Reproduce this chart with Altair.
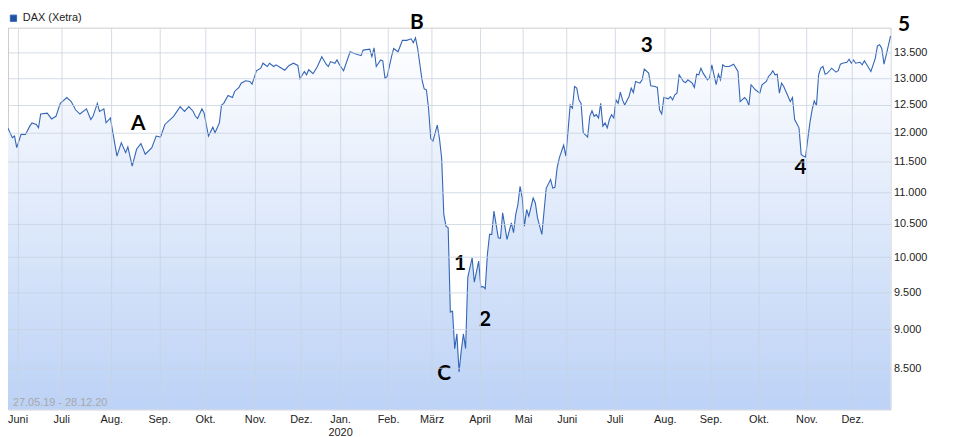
import json
import altair as alt
import numpy as np
import pandas as pd

# ---------------- data ----------------
series_name = "DAX (Xetra)"
range_text = "27.05.19 - 28.12.20"
start_date = "2019-05-27"

# trading-day number since 27.05.2019 and DAX close
day = [0, 2, 3, 4, 6, 8, 10, 11, 13, 14, 15, 18, 20, 22, 24, 27, 29, 31, 33, 36,
       38, 39, 41, 42, 44, 45, 47, 48, 50, 52, 54, 55, 57, 59, 61, 63, 66, 68, 70, 72,
       76, 79, 81, 83, 85, 86, 87, 89, 90, 92, 94, 95, 97, 98, 99, 101, 103, 104, 106, 107,
       109, 111, 112, 114, 116, 117, 119, 120, 122, 123, 125, 127, 129, 131, 133, 134, 136, 137, 138, 140,
       142, 144, 146, 147, 148, 150, 151, 152, 154, 157, 159, 162, 163, 166, 167, 168, 169, 171, 172, 173,
       174, 176, 177, 179, 181, 183, 185, 186, 187, 188, 190, 191, 192, 193, 194, 195, 197, 198, 199, 200,
       201, 202, 203, 204, 205, 206, 207, 208, 209, 210, 211, 213, 214, 216, 217, 218, 219, 220, 221, 222,
       223, 225, 226, 227, 229, 231, 232, 233, 234, 235, 236, 237, 238, 239, 241, 242, 243, 245, 247, 249,
       250, 251, 252, 253, 255, 256, 257, 258, 259, 260, 261, 262, 263, 264, 266, 267, 268, 269, 270, 271,
       272, 273, 274, 275, 276, 277, 278, 279, 280, 281, 282, 283, 285, 286, 287, 288, 290, 291, 292, 294,
       295, 297, 298, 299, 300, 301, 303, 304, 305, 306, 307, 308, 310, 311, 312, 314, 315, 316, 317, 318,
       319, 321, 322, 323, 324, 325, 326, 327, 328, 329, 331, 333, 335, 336, 338, 339, 340, 341, 343, 345,
       346, 348, 349, 350, 351, 352, 353, 354, 355, 356, 358, 359, 360, 361, 363, 364, 365, 366, 367, 368,
       369, 370, 371, 372, 373, 374, 375, 376, 377, 378, 380, 381, 382, 383, 385, 386, 387, 388, 389, 391,
       392, 393, 394, 396, 398, 399, 400, 401, 402, 403, 405]

dax = [12080, 11914, 11943, 11742, 11972, 11972, 12118, 12176, 12148, 12088, 12335, 12352, 12247, 12294, 12530, 12637, 12562, 12412, 12335, 12430,
       12236, 12294, 12530, 12382, 12430, 12176, 12264, 12030, 11598, 11828, 11656, 11754, 11428, 11714, 11811, 11629, 11742, 11943, 11926, 12148,
       12294, 12470, 12382, 12470, 12382, 12294, 12254, 12430, 12352, 11943, 12100, 12000, 12176, 12500, 12530, 12675, 12637, 12750, 12825, 12906,
       12951, 12938, 12887, 13143, 13193, 13289, 13225, 13289, 13225, 13258, 13206, 13154, 13245, 13289, 13245, 12989, 13129, 13066, 13162, 13085,
       13225, 13417, 13270, 13225, 13321, 13289, 13354, 13270, 13143, 13514, 13481, 13437, 13547, 13566, 13417, 13592, 13225, 13354, 13335, 13000,
       13033, 13417, 13578, 13514, 13742, 13742, 13773, 13695, 13793, 13578, 12970, 12800, 12782, 12440, 11900, 11855, 12136, 11900, 11569, 10647,
       10465, 10440, 9226, 9240, 8746, 8937, 8453, 8720, 8937, 8746, 9710, 9990, 9640, 9944, 9570, 9580, 9548, 10040, 10340, 10340,
       10698, 10290, 10281, 10672, 10266, 10516, 10365, 10647, 10803, 11095, 10906, 10465, 10725, 10620, 10906, 10828, 10594, 10340, 11067, 11207,
       11067, 11078, 11400, 11569, 11787, 11598, 12030, 12500, 12440, 12844, 12812, 12594, 12530, 12000, 11926, 12294, 12394, 12294, 12324, 12264,
       12530, 12118, 12176, 12088, 12236, 12324, 12264, 12594, 12530, 12737, 12594, 12500, 12656, 12812, 12731, 12938, 12906, 12970, 13174, 13097,
       12857, 12844, 12825, 12412, 12335, 12637, 12613, 12656, 12594, 12688, 12718, 13066, 12938, 12919, 12970, 12906, 12825, 13078, 13066, 13193,
       13097, 12970, 13013, 13258, 13066, 12876, 13078, 12970, 13258, 13225, 13225, 13270, 13129, 12562, 12637, 12594, 12488, 12876, 12782, 12718,
       12876, 12938, 13033, 13078, 13143, 13066, 13078, 12718, 12906, 12844, 12656, 12562, 12637, 12236, 12088, 11627, 11598, 11581, 11886, 12176,
       12412, 12575, 12488, 13066, 13193, 13225, 13078, 13097, 13143, 13193, 13116, 13143, 13270, 13289, 13308, 13366, 13289, 13354, 13289, 13308,
       13258, 13335, 13270, 13129, 13385, 13630, 13656, 13578, 13270, 13450, 13825]

# x-axis: first day of each month and its label
month_firsts = ["2019-06-01", "2019-07-01", "2019-08-01", "2019-09-01", "2019-10-01",
                "2019-11-01", "2019-12-01", "2020-01-01", "2020-02-01", "2020-03-01",
                "2020-04-01", "2020-05-01", "2020-06-01", "2020-07-01", "2020-08-01",
                "2020-09-01", "2020-10-01", "2020-11-01", "2020-12-01"]
month_names = ["Juni", "Juli", "Aug.", "Sep.", "Okt.", "Nov.", "Dez.", "Jan.", "Feb.", "März",
               "April", "Mai", "Juni", "Juli", "Aug.", "Sep.", "Okt.", "Nov.", "Dez."]
year_marks = {"2020-01-01": "2020"}
holidays = ["2019-12-24", "2019-12-25", "2019-12-26", "2019-12-31", "2020-01-01",
            "2020-04-10", "2020-04-13", "2020-05-01", "2020-12-24", "2020-12-25"]

# y-axis ticks
y_ticks = [8500, 9000, 9500, 10000, 10500, 11000, 11500, 12000, 12500, 13000, 13500]
y_domain = [8000, 14000]

# annotations (label, trading day, value)
ann_labels = ["A", "B", "C", "1", "2", "3", "4", "5"]
ann_day = [59.8, 187.6, 200.2, 207.4, 218.9, 293.1, 363.7, 411.2]
ann_value = [12148, 14086, 8423, 9905, 9121, 13625, 11391, 14060]

# ---------------- build ----------------
n_days = int(np.busday_count(start_date, "2020-12-29", holidays=holidays)) - 1
month_idx = np.busday_count(start_date, month_firsts, holidays=holidays).astype(float) - 0.6
tick_vals = [round(float(v), 2) for v in month_idx]
label_list = [[n, year_marks[d]] if d in year_marks else n for n, d in zip(month_names, month_firsts)]
x_label_expr = f"{json.dumps(label_list, ensure_ascii=False)}[indexof({json.dumps(tick_vals)}, datum.value)]"
y_label_expr = "replace(format(datum.value, ',.0f'), ',', '.')"

df = pd.DataFrame({"day": day, "dax": dax, "series": series_name})
df["floor"] = y_domain[0]
ann = pd.DataFrame({"label": ann_labels, "day": ann_day, "value": ann_value})
rng = pd.DataFrame({"t": [range_text]})

FONT = "Liberation Sans"
x_enc = alt.X("day:Q",
              scale=alt.Scale(domain=[0, n_days], nice=False, zero=False),
              axis=alt.Axis(values=tick_vals, labelExpr=x_label_expr, title=None,
                            ticks=False, domain=False, grid=True, labelPadding=4,
                            labelFont=FONT, labelFontSize=11, labelColor="#222222",
                            labelOverlap=False, labelFlush=False,
                            gridColor="#c9d3e0", gridOpacity=0.8, zindex=1))
y_enc = alt.Y("dax:Q",
              scale=alt.Scale(type="log", domain=y_domain, nice=False),
              axis=alt.Axis(orient="right", values=y_ticks, labelExpr=y_label_expr,
                            title=None, ticks=False, domain=False, grid=True,
                            labelPadding=3, labelFont=FONT, labelFontSize=11,
                            labelColor="#222222", labelOverlap=False,
                            gridColor="#c9d3e0", gridOpacity=0.8, zindex=1))

gradient = alt.LinearGradient(
    gradient="linear",
    stops=[alt.GradientStop(color="#ffffff", offset=0),
           alt.GradientStop(color="#bcd2f6", offset=1)],
    x1=1, x2=1, y1=0, y2=1)

base = alt.Chart(df)
area = base.mark_area(fill=gradient, line=False, opacity=1).encode(
    x=x_enc, y=y_enc, y2="floor:Q")
line = base.mark_line(strokeWidth=1.1).encode(
    x="day:Q", y="dax:Q",
    color=alt.Color("series:N", scale=alt.Scale(range=["#3466b7"]),
                    legend=alt.Legend(title=None, orient="none", legendX=0, legendY=-15,
                                      symbolType="square", symbolSize=40,
                                      symbolFillColor="#2350a3", symbolStrokeColor="#0f2e66",
                                      symbolStrokeWidth=1, labelFont=FONT, labelFontSize=11,
                                      labelColor="#222222", padding=0, labelOffset=4)))
texts = alt.Chart(ann).mark_text(font="Lato", fontWeight="bold", fontSize=21, color="#000000",
                                 align="center", baseline="middle").encode(
    x="day:Q", y="value:Q", text="label:N")
range_label = alt.Chart(rng).mark_text(font=FONT, fontSize=11, color="#a8a8a8", align="left",
                                       baseline="bottom", dx=5, dy=-1).encode(
    x=alt.datum(0), y=alt.datum(y_domain[0]), text="t:N")

chart = alt.layer(area, line, range_label, texts).properties(
    width=890, height=385,
    padding={"left": 0, "top": 18, "right": 62, "bottom": 28},
    autosize=alt.AutoSizeParams(type="none"),
).configure_view(stroke="#cccccc", strokeWidth=1)

chart.save("out.html", embed_options={"renderer": "svg", "actions": False})
